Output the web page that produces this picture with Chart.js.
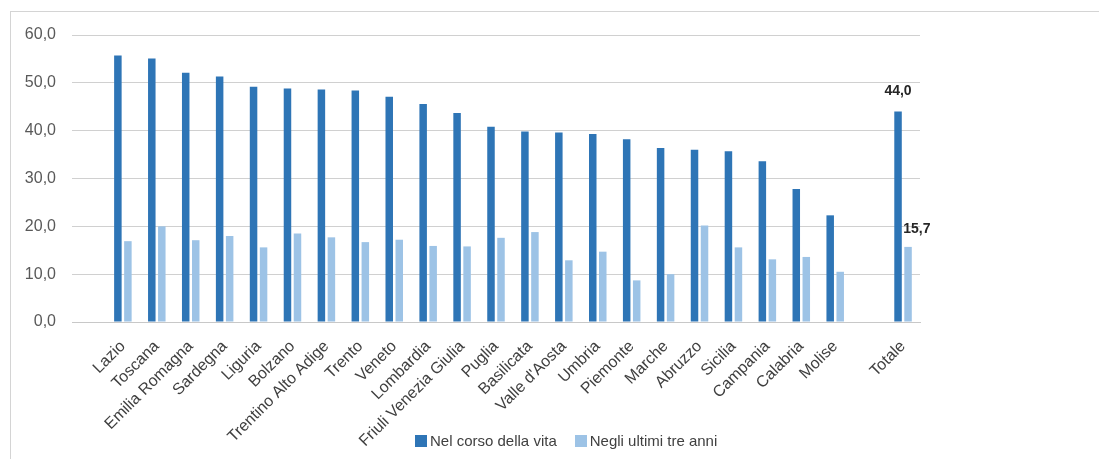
<!DOCTYPE html>
<html lang="it">
<head>
<meta charset="utf-8">
<title>Regioni</title>
<script src="https://cdn.jsdelivr.net/npm/chart.js@4/dist/chart.umd.min.js"></script>
<style>
    html, body { margin: 0; padding: 0; background: #fff; }
    #wrap { position: relative; width: 1099px; height: 459px; overflow: hidden; }
    #frame {
        position: absolute; left: 10px; top: 11px; right: -2px; bottom: -2px;
        border-left: 1px solid #d4d4d4; border-top: 1px solid #d4d4d4;
    }
    #chart { position: absolute; left: 0; top: 0; }
    #legend {
        position: absolute; left: 415px; top: 432px;
        display: flex; align-items: center;
        font: 15px "Liberation Sans", Arial, sans-serif; color: #404040;
    }
    #legend span.box { display: inline-block; width: 12px; height: 12px; margin-right: 3px; }
    #legend span.item { display: flex; align-items: center; margin-right: 18px; }
</style>
</head>
<body>
<div id="wrap">
    <div id="frame"></div>
    <canvas id="chart" width="1099" height="459"></canvas>
    <div id="legend"></div>
</div>
<script>
// ─────────────────────────────────────────────
// DATA
// ─────────────────────────────────────────────
var regioni = [
    '', 'Lazio', 'Toscana', 'Emilia Romagna', 'Sardegna', 'Liguria', 'Bolzano',
    'Trentino Alto Adige', 'Trento', 'Veneto', 'Lombardia', 'Friuli Venezia Giulia',
    'Puglia', 'Basilicata', "Valle d'Aosta", 'Umbria', 'Piemonte', 'Marche',
    'Abruzzo', 'Sicilia', 'Campania', 'Calabria', 'Molise', '', 'Totale'
];

var corsoVita = [
    null, 55.7, 55.1, 52.1, 51.3, 49.2, 48.8,
    48.6, 48.4, 47.1, 45.6, 43.7,
    40.8, 39.8, 39.6, 39.3, 38.2, 36.4,
    36.0, 35.7, 33.6, 27.8, 22.3, null, 44.0
];

var ultimiTreAnni = [
    null, 16.9, 20.0, 17.1, 18.0, 15.6, 18.5,
    17.7, 16.7, 17.2, 15.9, 15.8,
    17.6, 18.8, 12.9, 14.7, 8.7, 10.0,
    20.2, 15.6, 13.1, 13.6, 10.5, null, 15.7
];

var yTickLabels = ['0,0', '10,0', '20,0', '30,0', '40,0', '50,0', '60,0'];

var serie = ['Nel corso della vita', 'Negli ultimi tre anni'];
var colori = ['#2e75b6', '#9dc3e6'];

// values printed above the "Totale" bars
var etichetteTotale = { index: 24, text: ['44,0', '15,7'] };

// ─────────────────────────────────────────────
// PLUGIN: value labels on the total
// ─────────────────────────────────────────────
var totaleLabels = {
    id: 'totaleLabels',
    afterDatasetsDraw: function (chart) {
        var ctx = chart.ctx;
        ctx.save();
        ctx.font = 'bold 14px "Liberation Sans", Arial, sans-serif';
        ctx.fillStyle = '#262626';
        ctx.textBaseline = 'bottom';
        chart.data.datasets.forEach(function (ds, di) {
            var bar = chart.getDatasetMeta(di).data[etichetteTotale.index];
            if (!bar) return;
            if (di === 0) {
                ctx.textAlign = 'center';
                ctx.fillText(etichetteTotale.text[di], bar.x, bar.y - 13);
            } else {
                ctx.textAlign = 'left';
                ctx.fillText(etichetteTotale.text[di], bar.x - bar.width / 2 - 1, bar.y - 11);
            }
        });
        ctx.restore();
    }
};

// ─────────────────────────────────────────────
// CHART
// ─────────────────────────────────────────────
new Chart(document.getElementById('chart').getContext('2d'), {
    type: 'bar',
    data: {
        labels: regioni,
        datasets: [
            {
                label: serie[0],
                data: corsoVita,
                backgroundColor: colori[0],
                categoryPercentage: 0.59,
                barPercentage: 0.75
            },
            {
                label: serie[1],
                data: ultimiTreAnni,
                backgroundColor: colori[1],
                categoryPercentage: 0.59,
                barPercentage: 0.75
            }
        ]
    },
    options: {
        responsive: false,
        animation: false,
        layout: { padding: { top: 35, right: 179, bottom: 0, left: 0 } },
        plugins: {
            legend: { display: false },
            tooltip: { enabled: false }
        },
        scales: {
            x: {
                grid: { display: false, drawTicks: false },
                border: { display: true, color: '#c8c8c8' },
                ticks: {
                    autoSkip: false,
                    maxRotation: 45,
                    minRotation: 45,
                    padding: 15,
                    color: '#404040',
                    font: { family: '"Liberation Sans", Arial, sans-serif', size: 16 }
                },
                afterFit: function (scale) { scale.height = 137; }
            },
            y: {
                min: 0,
                max: 60,
                grid: { color: '#d0d0d0', drawTicks: false },
                border: { display: false },
                ticks: {
                    stepSize: 10,
                    padding: 16,
                    color: '#595959',
                    font: { family: '"Liberation Sans", Arial, sans-serif', size: 16 },
                    callback: function (value) { return yTickLabels[value / 10]; }
                },
                afterFit: function (scale) { scale.width = 72; }
            }
        }
    },
    plugins: [totaleLabels]
});

// ─────────────────────────────────────────────
// LEGEND
// ─────────────────────────────────────────────
var legend = document.getElementById('legend');
serie.forEach(function (nome, i) {
    var item = document.createElement('span');
    item.className = 'item';
    item.innerHTML = '<span class="box" style="background:' + colori[i] + '"></span>' + nome;
    legend.appendChild(item);
});
</script>
</body>
</html>
